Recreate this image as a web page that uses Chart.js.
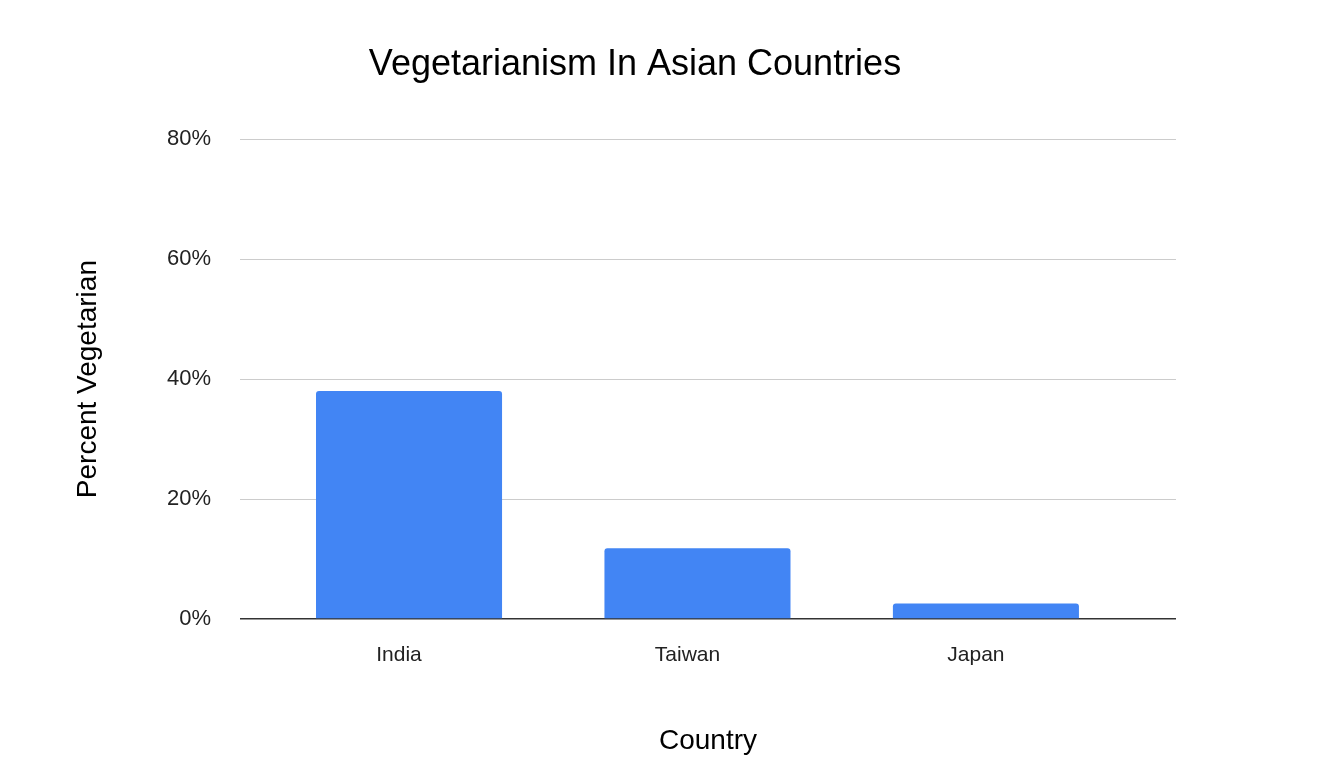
<!DOCTYPE html>
<html>
<head>
<meta charset="utf-8">
<title>Vegetarianism In Asian Countries</title>
<script src="https://cdn.jsdelivr.net/npm/chart.js@4/dist/chart.umd.min.js"></script>
<style>
  html, body { margin: 0; padding: 0; background: #fff; }
  #wrap { width: 1326px; height: 784px; }
</style>
</head>
<body>
<div id="wrap"><canvas id="grafico"></canvas></div>
<script>
// datos del gráfico
const paises     = ['India', 'Taiwan', 'Japan'];
const porcentaje = [38, 11.8, 2.6];
const marcasY    = [0, 20, 40, 60, 80];

const FUENTE = '"Liberation Sans", Arial, sans-serif';

const puntos = paises.map((p, i) => ({ x: i, y: porcentaje[i] }));

new Chart(document.getElementById('grafico'), {
  type: 'bar',
  data: {
    datasets: [{
      label: 'Percent Vegetarian',
      data: puntos,
      backgroundColor: '#4285f4',
      borderRadius: { topLeft: 3, topRight: 3 },
      borderSkipped: 'start',
      barPercentage: 0.645,
      categoryPercentage: 1,
    }]
  },
  options: {
    responsive: true,
    maintainAspectRatio: false,
    animation: false,
    layout: { padding: { left: 94, right: 150, top: 0, bottom: 25 } },
    plugins: {
      legend: { display: false },
      tooltip: { enabled: false },
      title: {
        display: true,
        text: 'Vegetarianism In Asian Countries',
        color: '#000',
        font: { family: FUENTE, size: 36, weight: 'normal' },
        padding: { top: 43, bottom: 53 },
      }
    },
    scales: {
      x: {
        type: 'linear',
        offset: false,
        min: -0.586,
        max: 2.659,
        grid: { display: false, drawTicks: false, offset: false },
        border: { display: false },
        afterBuildTicks: (eje) => { eje.ticks = paises.map((_, i) => ({ value: i })); },
        afterFit: (eje) => { eje.height = 140; },
        ticks: {
          padding: 24,
          labelOffset: -10,
          color: '#222',
          font: { family: FUENTE, size: 21 },
          callback: (v) => paises[v] ?? '',
        },
        title: {
          display: true,
          text: 'Country',
          color: '#000',
          font: { family: FUENTE, size: 28 },
          padding: { top: 0, bottom: 1 },
        }
      },
      y: {
        min: 0,
        max: 80,
        afterBuildTicks: (eje) => { eje.ticks = marcasY.map(v => ({ value: v })); },
        afterFit: (eje) => { eje.width = 146; },
        grid: {
          drawTicks: false,
          color: (ctx) => ctx.tick && ctx.tick.value === 0 ? '#333333' : '#cccccc',
          lineWidth: (ctx) => ctx.tick && ctx.tick.value === 0 ? 1.5 : 1,
        },
        border: { display: false },
        ticks: {
          padding: 29,
          color: '#222',
          font: { family: FUENTE, size: 22 },
          callback: (v) => v + '%',
        },
        title: {
          display: true,
          text: 'Percent Vegetarian',
          color: '#000',
          font: { family: FUENTE, size: 28 },
          padding: { top: -23, bottom: 0 },
        }
      }
    }
  }
});
</script>
</body>
</html>
